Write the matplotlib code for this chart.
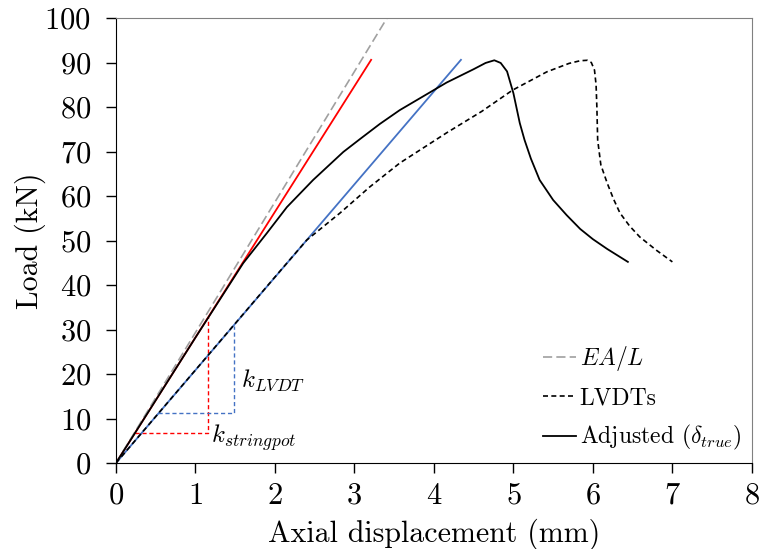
import matplotlib as mpl
mpl.use('Agg')
mpl.rcParams['font.family'] = 'cmr10'
mpl.rcParams['mathtext.fontset'] = 'cm'
mpl.rcParams['axes.formatter.use_mathtext'] = True
mpl.rcParams['font.size'] = 22
import matplotlib.pyplot as plt

# Adjusted (true) displacement curve
disp_adjusted = [0, 0.5, 1.0, 1.6, 1.9, 2.15, 2.48, 2.86, 3.07, 3.32, 3.57, 4.16, 4.5,
                 4.65, 4.76, 4.84, 4.92, 5.0, 5.08, 5.14, 5.22, 5.33, 5.5, 5.67, 5.84,
                 6.0, 6.18, 6.44]
load_adjusted = [0, 14.1, 28.2, 44.9, 51.7, 57.5, 63.6, 69.9, 72.8, 76.2, 79.3, 85.5, 88.5,
                 89.9, 90.5, 89.9, 88.0, 83.1, 76.4, 72.6, 68.4, 63.6, 59.1, 55.7, 52.6,
                 50.3, 48.1, 45.2]

# Raw LVDT curve
disp_lvdt = [0, 1.0, 2.0, 2.4, 2.82, 3.19, 3.57, 4.16, 4.6, 4.99, 5.42, 5.7, 5.84, 5.93,
             5.98, 6.02, 6.04, 6.05, 6.06, 6.1, 6.18, 6.26, 6.34, 6.46, 6.59, 6.8, 7.0]
load_lvdt = [0, 20.9, 41.8, 50.1, 56.2, 62.0, 67.4, 74.2, 79.0, 83.8, 87.9, 89.8, 90.4, 90.5,
             90.0, 88.3, 85.0, 80.0, 72.6, 67.0, 62.9, 59.3, 56.2, 53.3, 50.8, 47.8, 45.2]

# Elastic stiffness EA/L and fitted stiffnesses
ea_disp, ea_load = [0, 3.41], [0, 100]
strpot_disp, strpot_load = [0, 3.21], [0, 90.6]
lvdt_fit_disp, lvdt_fit_load = [0, 4.34], [0, 90.6]

# Slope triangles
strpot_tri_x, strpot_tri_y = [0.24, 1.16, 1.16], [6.7, 6.7, 32.8]
lvdt_tri_x, lvdt_tri_y = [0.53, 1.48, 1.48], [11.2, 11.2, 30.9]

fig = plt.figure(figsize=(7.61, 5.49), dpi=100)
ax = fig.add_axes([0.1524, 0.1566, 0.8356, 0.8106])

red = '#FF0000'
blue = '#4472C4'

ax.plot(strpot_tri_x, strpot_tri_y, color=red, lw=1.0, dashes=(3, 2))
ax.plot(lvdt_tri_x, lvdt_tri_y, color=blue, lw=1.0, dashes=(3, 2))
ax.plot(strpot_disp, strpot_load, color=red, lw=1.3)
ax.plot(lvdt_fit_disp, lvdt_fit_load, color=blue, lw=1.3)

ax.plot(ea_disp, ea_load, color='#A0A0A0', lw=1.2, dashes=(5.5, 2.5), label='$EA/L$')
ax.plot(disp_lvdt, load_lvdt, color='black', lw=1.2, dashes=(3, 2), label='LVDTs')
ax.plot(disp_adjusted, load_adjusted, color='black', lw=1.3,
        label=r'Adjusted ($\delta_{true}$)')

ax.text(1.57, 18.6, '$k_{LVDT}$', fontsize=18, va='center', ha='left')
ax.text(1.2, 5.6, '$k_{stringpot}$', fontsize=18, va='center', ha='left')

ax.set_xlim(0, 8)
ax.set_ylim(0, 100)
ax.set_xticks(range(0, 9))
ax.set_yticks(range(0, 101, 10))
ax.set_xlabel('Axial displacement (mm)', fontsize=21.5, labelpad=6)
ax.set_ylabel('Load (kN)', fontsize=21.5, labelpad=-1)

for side in ['top', 'right']:
    ax.spines[side].set_color('#808080')
ax.tick_params(direction='out', length=7, width=1, labelsize=22)
ax.tick_params(axis='y', pad=11)
ax.tick_params(axis='x', pad=7)

ax.legend(loc='lower right', frameon=False, fontsize=17, handlelength=1.4,
          handletextpad=0.17, labelspacing=0.6, borderaxespad=0.05)

plt.savefig('out.png', dpi=100)
